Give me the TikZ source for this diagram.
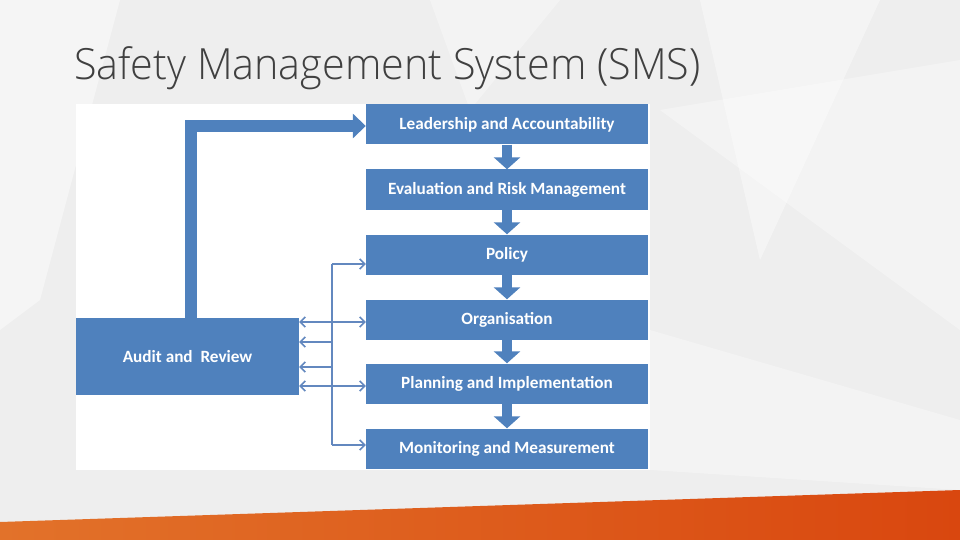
\documentclass[tikz,border=0pt]{standalone}
\usepackage{fontspec}
\setmainfont{Carlito}
\IfFontExistsTF{Open Sans Light}{\newfontfamily\titlefont{Open Sans Light}}{%
  \IfFontExistsTF{Lato Light}{\newfontfamily\titlefont{Lato Light}}{\newfontfamily\titlefont{Open Sans}}}
\usetikzlibrary{arrows.meta}
\definecolor{boxblue}{HTML}{4F81BD}
\definecolor{linkblue}{HTML}{6388BF}
\definecolor{bggray}{HTML}{EEEEEE}
\definecolor{orangeL}{HTML}{E2722A}
\definecolor{orangeR}{HTML}{D9470F}
\definecolor{titlegray}{HTML}{404040}
\tikzset{
  stepbox/.style={fill=boxblue, text=white, minimum width=282pt, minimum height=40pt,
    inner sep=0pt, font=\fontsize{17.2}{20}\selectfont\bfseries},
  fatarrow/.style={draw=boxblue, line width=10pt, -{Triangle[width=26pt,length=12pt]}},
  feedback/.style={draw=boxblue, line width=12pt, line join=miter, -{Triangle[width=24pt,length=13pt]}},
  link/.style={draw=linkblue, line width=1.8pt},
  linkarrow/.style={link, -{Straight Barb[length=5pt,width=10pt,line width=1.6pt]}},
  linkboth/.style={link, {Straight Barb[length=5pt,width=10pt,line width=1.6pt]}-{Straight Barb[length=5pt,width=10pt,line width=1.6pt]}},
}
\begin{document}
\begin{tikzpicture}[x=1pt,y=-1pt]
\useasboundingbox (0,0) rectangle (960,540);
% background
\fill[bggray] (0,0) rectangle (960,540);
\fill[white,opacity=0.45] (0,0) -- (120,0) -- (40,300) -- (0,330) -- cycle;
\fill[white,opacity=0.35] (430,0) -- (560,0) -- (470,110) -- cycle;
\fill[white,opacity=0.4] (700,0) -- (880,0) -- (760,260) -- cycle;
\fill[white,opacity=0.35] (660,110) -- (960,60) -- (960,330) -- cycle;
\fill[white,opacity=0.3] (650,330) -- (960,420) -- (960,490) -- (650,470) -- cycle;
% orange band
\shade[left color=orangeL, right color=orangeR] (0,522) -- (960,490) -- (960,540) -- (0,540) -- cycle;
% title
\node[anchor=base west, inner sep=0pt, text=titlegray, xscale=0.96, font=\titlefont\fontsize{43}{50}\selectfont] (title) at (74,80) {Safety Management System (SMS)};
% diagram panel
\fill[white] (76,104) rectangle (650,470);
% boxes
\node[stepbox] (lead) at (507,124.5) {Leadership and Accountability};
\node[stepbox] (eval) at (507,189.5) {Evaluation and Risk Management};
\node[stepbox] (pol)  at (507,254.5) {Policy};
\node[stepbox] (org)  at (507,319.5) {Organisation};
\node[stepbox] (plan) at (507,383.5) {Planning and Implementation};
\node[stepbox] (mon)  at (507,448.5) {Monitoring and Measurement};
\node[stepbox, minimum width=223pt, minimum height=77pt] (audit) at (187.5,356.5) {Audit and~ Review};
% fat downward arrows
\foreach \a/\b in {lead/eval, eval/pol, pol/org, org/plan, plan/mon}
  \draw[fatarrow] (\a.south) -- (\b.north);
% feedback arrow
\draw[feedback] ([xshift=3.5pt]audit.north) |- ([yshift=-1.5pt]lead.west);
% bus
\coordinate (bus) at (332,0);
\draw[link] (bus |- {0,264}) -- (bus |- {0,445});
\draw[linkarrow] (bus |- {0,264}) -- (pol.west |- {0,264});
\draw[linkboth] (audit.east |- {0,322}) -- (org.west |- {0,322});
\draw[linkarrow] (bus |- {0,342}) -- (audit.east |- {0,342});
\draw[linkarrow] (bus |- {0,367}) -- (audit.east |- {0,367});
\draw[linkboth] (audit.east |- {0,386}) -- (plan.west |- {0,386});
\draw[linkarrow] (bus |- {0,445}) -- (mon.west |- {0,445});
\end{tikzpicture}
\end{document}
